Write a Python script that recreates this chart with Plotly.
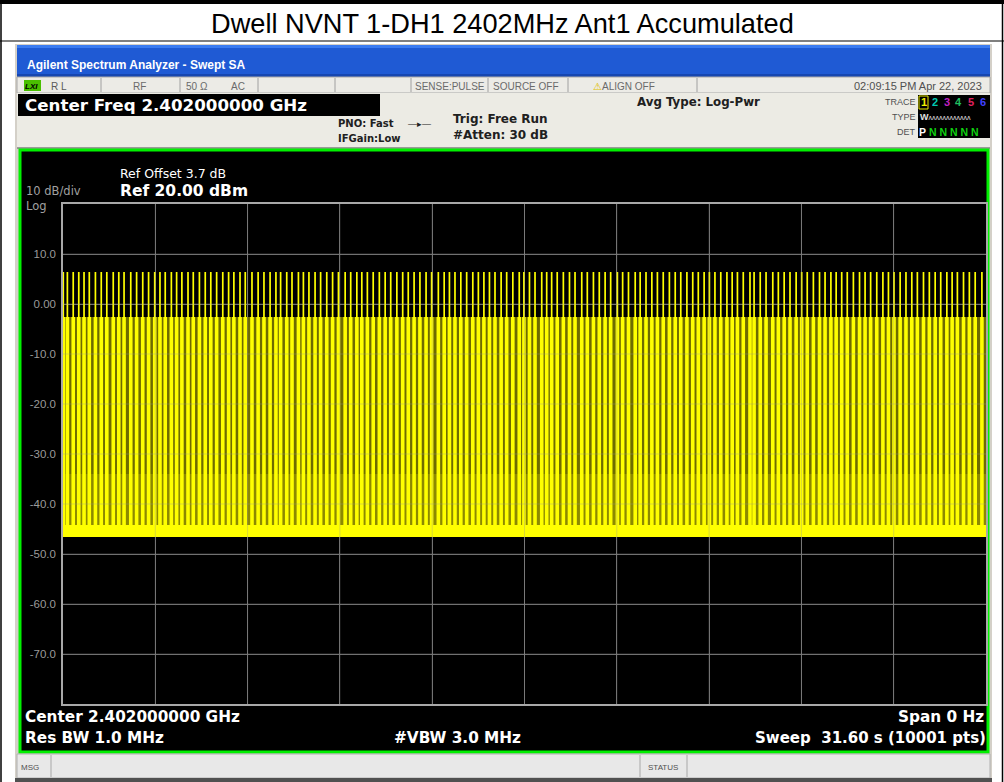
import plotly.graph_objects as go

# ---------------- data ----------------
sweep_time_s = 31.6
pulse_times_s = [
    0.01, 0.15, 0.35, 0.54, 0.72, 0.90, 1.11, 1.31, 1.50, 1.72, 1.91, 2.09, 2.32, 2.52, 2.73,
    2.93, 3.14, 3.32, 3.50, 3.71, 3.89, 4.07, 4.28, 4.46, 4.67, 4.87, 5.06, 5.26, 5.47, 5.67,
    5.85, 6.06, 6.24, 6.47, 6.68, 6.88, 7.09, 7.29, 7.45, 7.66, 7.84, 8.06, 8.23, 8.42, 8.63,
    8.82, 9.03, 9.23, 9.43, 9.66, 9.85, 10.06, 10.23, 10.42, 10.62, 10.83, 11.03, 11.22, 11.43,
    11.63, 11.82, 12.02, 12.22, 12.43, 12.62, 12.85, 13.05, 13.23, 13.42, 13.62, 13.82, 14.03,
    14.22, 14.41, 14.60, 14.79, 15.00, 15.19, 15.40, 15.62, 15.78, 15.97, 16.16, 16.39, 16.56,
    16.73, 16.92, 17.13, 17.34, 17.53, 17.76, 17.95, 18.16, 18.36, 18.56, 18.75, 18.98, 19.16,
    19.36, 19.59, 19.76, 19.96, 20.16, 20.35, 20.55, 20.76, 20.96, 21.15, 21.36, 21.56, 21.75,
    21.95, 22.13, 22.32, 22.52, 22.73, 22.91, 23.09, 23.29, 23.52, 23.66, 23.87, 24.07, 24.30,
    24.49, 24.69, 24.89, 25.10, 25.29, 25.48, 25.69, 25.90, 26.09, 26.29, 26.47, 26.66, 26.85,
    27.06, 27.27, 27.46, 27.65, 27.86, 28.07, 28.26, 28.45, 28.66, 28.86, 29.06, 29.25, 29.46,
    29.66, 29.86, 30.05, 30.26, 30.44, 30.62, 30.83, 31.03, 31.23, 31.46,
]
pulse_peak_dbm = 6.4
pulse_plateau_dbm = -2.6
lower_band_top_dbm = -34.0
floor_top_dbm = -44.2
floor_bottom_dbm = -46.6

y_tick_values = [20, 10, 0, -10, -20, -30, -40, -50, -60, -70, -80]
y_tick_labels = ["", "10.0", "0.00", "-10.0", "-20.0", "-30.0", "-40.0", "-50.0", "-60.0", "-70.0", ""]
x_grid_divisions = [0, 1, 2, 3, 4, 5, 6, 7, 8, 9, 10]

# ---------------- figure geometry ----------------
W, H = 1004, 782
L, R, T, B = 63, 986, 204, 704


def X(px):
    return (px - L) / (R - L)


def Y(py):
    return (B - py) / (B - T)


YELLOW = "#ffff00"
fig = go.Figure()

# background bands of the trace
fig.add_trace(go.Scatter(
    x=[0, sweep_time_s, sweep_time_s, 0, 0],
    y=[floor_top_dbm, floor_top_dbm, pulse_plateau_dbm, pulse_plateau_dbm, floor_top_dbm],
    fill="toself", fillcolor="#6e6c00", line=dict(width=0), mode="lines", hoverinfo="skip"))
fig.add_trace(go.Scatter(
    x=[0, sweep_time_s, sweep_time_s, 0, 0],
    y=[floor_top_dbm, floor_top_dbm, lower_band_top_dbm, lower_band_top_dbm, floor_top_dbm],
    fill="toself", fillcolor="#8c8900", line=dict(width=0), mode="lines", hoverinfo="skip"))

# wide pulse bodies (floor -> plateau)
xb, yb = [], []
for t in pulse_times_s:
    xb += [t, t, None]
    yb += [floor_top_dbm, pulse_plateau_dbm, None]
fig.add_trace(go.Scatter(x=xb, y=yb, mode="lines", line=dict(color=YELLOW, width=3.6), hoverinfo="skip"))

# thin pulse peaks (floor -> peak)
xp, yp = [], []
for t in pulse_times_s:
    xp += [t, t, None]
    yp += [floor_top_dbm, pulse_peak_dbm, None]
fig.add_trace(go.Scatter(x=xp, y=yp, mode="lines", line=dict(color=YELLOW, width=1.7), hoverinfo="skip"))

# noise floor band
fig.add_trace(go.Scatter(
    x=[0, sweep_time_s, sweep_time_s, 0, 0],
    y=[floor_bottom_dbm, floor_bottom_dbm, floor_top_dbm, floor_top_dbm, floor_bottom_dbm],
    fill="toself", fillcolor=YELLOW, line=dict(width=0), mode="lines", hoverinfo="skip"))

x_grid = [sweep_time_s * d / 10 for d in x_grid_divisions]

# ---------------- chrome (shapes) ----------------
shapes = []


def rect(x0, y0, x1, y1, fill, line=None, lw=0, layer="below"):
    shapes.append(dict(type="rect", xref="paper", yref="paper", x0=X(x0), x1=X(x1), y0=Y(y1), y1=Y(y0),
                       fillcolor=fill, line=dict(color=line or fill, width=lw), layer=layer))


def hline(x0, x1, y, color, lw=1, layer="below"):
    shapes.append(dict(type="line", xref="paper", yref="paper", x0=X(x0), x1=X(x1), y0=Y(y), y1=Y(y),
                       line=dict(color=color, width=lw), layer=layer))


def vline(x, y0, y1, color, lw=1, layer="below"):
    shapes.append(dict(type="line", xref="paper", yref="paper", x0=X(x), x1=X(x), y0=Y(y0), y1=Y(y1),
                       line=dict(color=color, width=lw), layer=layer))


# outer table
rect(0, 0, 1004, 4, "#000000")
hline(0, 1004, 41, "#000000", 1.2)
vline(1, 0, 782, "#000000", 1.5)
vline(1002.5, 0, 782, "#000000", 1.5)

# analyzer window
rect(15, 44, 992, 782, "#d4d0c8")
rect(17, 45, 990, 77, "#1f5ad4")
rect(17, 45, 990, 48, "#3c7cf0")
rect(17, 74, 990, 77, "#1646b0")
rect(17, 77, 990, 93, "#ecebe6", "#a8a8a8", 1)
for sx in [101, 180, 258, 335, 411, 488, 568, 697]:
    vline(sx, 78, 92, "#a0a0a0")
rect(17, 93, 990, 148, "#ecebe4")
rect(18, 94, 380, 116, "#000000")
rect(918, 95, 990, 138, "#000000")
rect(919, 96, 928, 109, "#000000", "#e8e800", 1)
hline(17, 990, 148, "#808080", 1.5)
rect(24, 80, 41, 91, "#4ac000")
# plot frame
rect(20, 150, 988, 752, "#000000", "#00f000", 3)
# message bar
rect(17, 754, 990, 778, "#e8e8e8", "#b0b0b0", 1)
for sx in [51, 640, 687]:
    vline(sx, 755, 777, "#a8a8a8")
rect(15, 778, 992, 782, "#505050")

# faint grid lines on top of the trace (as on the analyzer)
for gx in x_grid[1:-1]:
    shapes.append(dict(type="line", xref="x", yref="paper", x0=gx, x1=gx, y0=0, y1=1,
                       line=dict(color="rgba(150,150,150,0.35)", width=1), layer="above"))
for gy in y_tick_values[1:-1]:
    shapes.append(dict(type="line", xref="paper", yref="y", x0=0, x1=1, y0=gy, y1=gy,
                       line=dict(color="rgba(150,150,150,0.35)", width=1), layer="above"))

# ---------------- text ----------------
annotations = []
FA = "Liberation Sans, Arial, sans-serif"
FD = "DejaVu Sans, sans-serif"


def text(px, py, s, size, color, anchor="left", family=FA, align="left"):
    annotations.append(dict(xref="paper", yref="paper", x=X(px), y=Y(py), text=s, showarrow=False,
                            xanchor=anchor, yanchor="middle", align=align,
                            font=dict(size=size, color=color, family=family),
                            borderpad=0, borderwidth=0))


text(502.5, 24, "Dwell NVNT 1-DH1 2402MHz Ant1 Accumulated", 27.2, "#000000", "center")
text(27, 65, "<b>Agilent Spectrum Analyzer - Swept SA</b>", 12, "#ffffff")
text(25, 86, "<b><i>LXI</i></b>", 8, "#000000")
text(51, 86, "R L", 10, "#5a5a5a")
text(133, 86, "RF", 10, "#6a6a6a")
text(186, 86, "50 Ω", 10, "#6a6a6a")
text(231, 86, "AC", 10, "#6a6a6a")
text(415, 86, "SENSE:PULSE", 10, "#6a6a6a")
text(493, 86, "SOURCE OFF", 10, "#6a6a6a")
text(593, 86, "<span style='color:#e0c000'>⚠</span>ALIGN OFF", 10, "#6a6a6a")
text(982, 86, "02:09:15 PM Apr 22, 2023", 11, "#505050", "right")
text(25, 105, "<b>Center Freq 2.402000000 GHz</b>", 16.7, "#ffffff", family=FD)
text(394, 123, "<b>PNO: Fast</b>", 10, "#202020", "right", FD)
text(401, 138, "<b>IFGain:Low</b>", 10, "#202020", "right", FD)
text(408, 124, "—▸—", 9, "#202020")
text(453, 119, "<b>Trig: Free Run</b>", 12, "#202020", family=FD)
text(453, 135, "<b>#Atten: 30 dB</b>", 12, "#202020", family=FD)
text(637, 102, "<b>Avg Type: Log-Pwr</b>", 11.8, "#202020", family=FD)
text(916, 102, "TRACE", 9, "#505050", "right")
text(916, 117, "TYPE", 9, "#505050", "right")
text(916, 132, "DET", 9, "#505050", "right")
for i, (num, col) in enumerate(zip(["1", "2", "3", "4", "5", "6"],
                                   ["#f0f000", "#00c8b0", "#c020c0", "#20c060", "#e02060", "#4040ff"])):
    text(923.5 + i * 11.8, 102.5, "<b>%s</b>" % num, 11, col, "center")
text(920, 117, "<b>W</b><span style='font-size:7px'>ʌʌʌʌʌʌʌʌʌʌʌʌ</span>", 9, "#e0e0e0")
text(919, 132, "<b>P</b> <b><span style='color:#10d010'>N N N N N</span></b>", 10.5, "#ffffff")

text(120, 174, "Ref Offset 3.7 dB", 12.5, "#ffffff", family=FD)
text(120, 191, "<b>Ref 20.00 dBm</b>", 15.5, "#ffffff", family=FD)
text(26, 198, "10 dB/div<br>Log", 11.5, "#a0a0a0", family=FD)

text(25, 717, "<b>Center 2.402000000 GHz</b>", 15.3, "#ffffff", family=FD)
text(25, 738, "<b>Res BW 1.0 MHz</b>", 15.3, "#ffffff", family=FD)
text(394, 738, "<b>#VBW 3.0 MHz</b>", 15.3, "#ffffff", family=FD)
text(984, 717, "<b>Span 0 Hz</b>", 15.3, "#ffffff", "right", FD)
text(986, 738, "<b>Sweep  31.60 s (10001 pts)</b>", 15.0, "#ffffff", "right", FD)
text(21, 767, "MSG", 8, "#505050")
text(663, 767, "STATUS", 8, "#505050", "center")

fig.update_layout(
    width=W, height=H,
    margin=dict(l=L, r=W - R, t=T, b=H - B, pad=0),
    paper_bgcolor="#ffffff", plot_bgcolor="#000000",
    showlegend=False,
    shapes=shapes, annotations=annotations,
    xaxis=dict(range=[0, sweep_time_s], tickvals=x_grid, showticklabels=False, ticks="",
               showgrid=True, gridcolor="#6a6a6a", gridwidth=1, zeroline=False,
               showline=True, mirror=True, linecolor="#a8a8a8", linewidth=1.5),
    yaxis=dict(range=[-80, 20], tickvals=y_tick_values, ticktext=y_tick_labels, ticks="",
               showgrid=True, gridcolor="#6a6a6a", gridwidth=1, zeroline=False,
               showline=True, mirror=True, linecolor="#a8a8a8", linewidth=1.5,
               tickfont=dict(family=FA, size=11.5, color="#9a9a9a"), ticklabelstandoff=3),
)

fig.write_html("out.html", config={"displayModeBar": False},
               post_script="document.body.style.margin='0';document.body.style.overflow='hidden';")
